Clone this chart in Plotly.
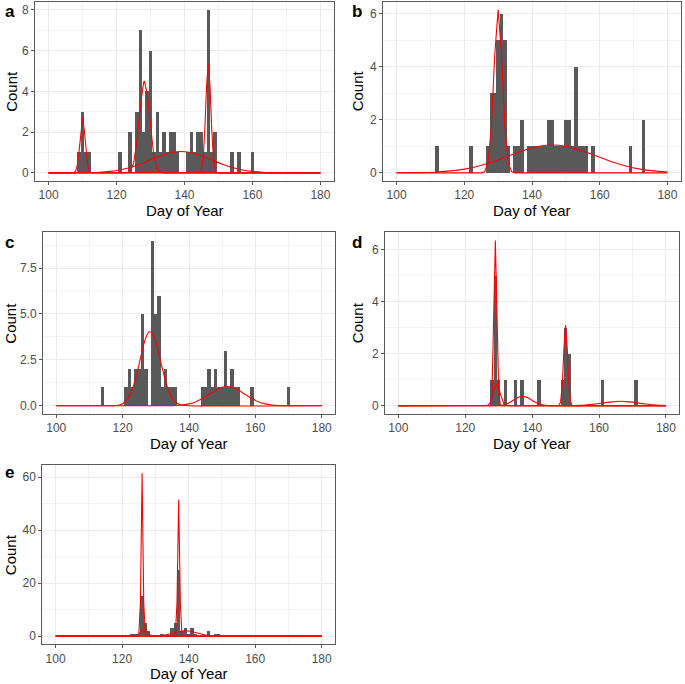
import plotly.graph_objects as go

# ---------------- data: daily histogram counts ----------------
A_DAYS = [109, 110, 111, 112, 121, 124, 126, 127, 128, 129, 130, 131, 132, 133, 134, 135, 136, 137, 138,
          141, 142, 143, 144, 145, 146, 147, 148, 149, 154, 156, 160]
A_COUNTS = [1, 3, 1, 1, 1, 2, 3, 7, 2, 4, 6, 1, 3, 1, 2, 1, 2, 2, 1,
            1, 2, 1, 2, 2, 1, 8, 1, 2, 1, 1, 1]

B_DAYS = [112, 122, 127, 128, 129, 130, 131, 132, 133, 135, 136, 137, 139, 140, 141, 142, 143, 144, 145,
          146, 147, 148, 149, 150, 151, 152, 153, 154, 155, 156, 158, 169, 173]
B_COUNTS = [1, 1, 1, 3, 3, 5, 6, 5, 1, 1, 1, 2, 1, 1, 1, 1, 1, 1, 2,
            2, 1, 1, 1, 2, 2, 1, 4, 1, 1, 1, 1, 1, 2]

C_DAYS = [114, 121, 122, 123, 124, 125, 126, 127, 129, 130, 131, 132, 133, 134, 135, 136,
          144, 145, 146, 147, 148, 149, 150, 151, 152, 153, 154, 155, 159, 170]
C_COUNTS = [1, 1, 2, 1, 2, 2, 5, 2, 9, 5, 6, 1, 2, 1, 1, 1,
            1, 1, 2, 1, 2, 1, 1, 3, 1, 2, 1, 1, 1, 1]

D_DAYS = [128, 129, 130, 132, 135, 137, 142, 149, 150, 151, 161, 171]
D_COUNTS = [1, 5, 1, 1, 1, 1, 1, 1, 3, 2, 1, 1]

E_DAYS = [123, 124, 125, 126, 127, 128, 132, 135, 136, 137, 138, 139, 140, 141, 142, 146, 148, 149]
E_COUNTS = [1, 1, 1, 15, 5, 2, 1, 3, 5, 25, 2, 3, 1, 3, 1, 2, 1, 1]

# ---------------- data: fitted component curves ----------------
A_FIT1_DAY = [100, 107, 107.5, 108, 108.5, 109, 109.5, 110, 110.5, 111, 111.5, 112, 112.5, 113, 180]
A_FIT1_COUNT = [0, 0, 0.01, 0.1, 0.4, 1.1, 2.1, 2.7, 2.1, 1.1, 0.4, 0.1, 0.01, 0, 0]
A_FIT2_DAY = [100, 122, 123, 124, 125, 126, 127, 128, 128.2, 129, 130, 131, 132, 133, 134, 180]
A_FIT2_COUNT = [0, 0, 0.01, 0.09, 0.46, 1.53, 3.27, 4.46, 4.5, 3.9, 2.19, 0.79, 0.18, 0.03, 0, 0]
A_FIT3_DAY = [100, 144, 144.5, 145, 145.5, 146, 146.5, 147, 147.5, 148, 148.5, 149, 149.5, 150, 180]
A_FIT3_COUNT = [0, 0, 0.02, 0.15, 0.72, 2.2, 4.28, 5.35, 4.28, 2.2, 0.72, 0.15, 0.02, 0, 0]
A_FIT4_DAY = [100, 106, 109, 112, 115, 118, 121, 124, 127, 130, 133, 136, 139, 142, 145, 148, 151,
              154, 157, 160, 163, 166, 169, 172, 180]
A_FIT4_COUNT = [0, 0.001, 0.004, 0.012, 0.03, 0.07, 0.14, 0.26, 0.43, 0.64, 0.84, 0.99, 1.05, 0.99, 0.84,
                0.64, 0.43, 0.26, 0.14, 0.07, 0.03, 0.012, 0.004, 0.001, 0]

B_FIT1_DAY = [100, 125, 126, 127, 128, 129, 130, 131, 132, 133, 134, 135, 180]
B_FIT1_COUNT = [0, 0, 0.04, 0.35, 1.71, 4.47, 6.15, 4.47, 1.71, 0.35, 0.04, 0, 0]
B_FIT2_DAY = [100, 104, 108, 112, 116, 120, 124, 128, 132, 136, 140, 144, 146, 148, 152, 156, 160,
              164, 168, 172, 176, 180]
B_FIT2_COUNT = [0.002, 0.006, 0.015, 0.034, 0.073, 0.14, 0.25, 0.40, 0.59, 0.78, 0.94, 1.04, 1.05, 1.04,
                0.94, 0.78, 0.59, 0.40, 0.25, 0.14, 0.073, 0.034]

C_FIT1_DAY = [100, 116, 118, 119, 120, 121, 122, 123, 124, 125, 126, 127, 128, 129, 130, 131, 132, 133,
              134, 135, 136, 137, 138, 140, 180]
C_FIT1_COUNT = [0, 0.002, 0.016, 0.045, 0.11, 0.25, 0.51, 0.94, 1.55, 2.30, 3.08, 3.71, 4.03, 3.95, 3.49,
                2.77, 1.99, 1.28, 0.75, 0.39, 0.19, 0.08, 0.03, 0.003, 0]
C_FIT2_DAY = [100, 134, 136, 138, 140, 142, 144, 146, 148, 150, 151.5, 153, 155, 157, 159, 161, 163,
              165, 167, 170, 180]
C_FIT2_COUNT = [0, 0.003, 0.015, 0.041, 0.10, 0.21, 0.39, 0.61, 0.84, 1.01, 1.05, 1.01, 0.84, 0.61, 0.39,
                0.21, 0.10, 0.041, 0.015, 0.002, 0]

D_FIT1_DAY = [100, 127, 127.5, 128, 128.5, 129, 129.5, 130, 130.5, 131, 180]
D_FIT1_COUNT = [0, 0, 0.02, 0.54, 3.43, 6.35, 3.43, 0.54, 0.02, 0, 0]
D_FIT2_DAY = [100, 126, 126.5, 127, 127.5, 128, 128.5, 129, 129.4, 130, 130.5, 131, 131.5, 132, 132.5, 133, 180]
D_FIT2_COUNT = [0, 0, 0.012, 0.046, 0.13, 0.31, 0.55, 0.76, 0.82, 0.68, 0.45, 0.23, 0.09, 0.028, 0.007, 0, 0]
D_FIT3_DAY = [100, 128, 129, 130, 131, 132, 133, 134, 135, 136, 137, 138, 139, 140, 141, 142, 143, 144,
              145, 146, 148, 180]
D_FIT3_COUNT = [0, 0.001, 0.003, 0.01, 0.026, 0.056, 0.107, 0.18, 0.26, 0.33, 0.36, 0.34, 0.29, 0.21,
                0.13, 0.074, 0.036, 0.015, 0.006, 0.002, 0, 0]
D_FIT4_DAY = [100, 147.5, 148, 148.5, 149, 149.5, 150, 150.5, 151, 151.5, 152, 152.5, 180]
D_FIT4_COUNT = [0, 0, 0.01, 0.14, 0.77, 2.19, 3.1, 2.19, 0.77, 0.14, 0.01, 0, 0]
D_FIT5_DAY = [100, 146, 150, 154, 156, 158, 160, 162, 164, 166, 168, 170, 172, 174, 176, 178, 180]
D_FIT5_COUNT = [0, 0.0003, 0.002, 0.013, 0.028, 0.052, 0.085, 0.12, 0.15, 0.17, 0.16, 0.14, 0.10, 0.067,
                0.038, 0.019, 0.008]

E_FIT1_DAY = [100, 124.5, 125, 125.5, 126, 126.5, 127, 127.5, 180]
E_FIT1_COUNT = [0, 0, 0.1, 12.5, 61.5, 12.5, 0.1, 0, 0]
E_FIT2_DAY = [100, 135.5, 136, 136.5, 137, 137.5, 138, 138.5, 180]
E_FIT2_COUNT = [0, 0, 0.2, 12.8, 51.5, 12.8, 0.2, 0, 0]
E_FIT3_DAY = [100, 123, 124, 125, 126, 126.5, 127, 128, 129, 130, 131, 180]
E_FIT3_COUNT = [0, 0.005, 0.11, 0.81, 2.2, 2.5, 2.2, 0.81, 0.11, 0.005, 0, 0]
E_FIT4_DAY = [100, 126, 128, 130, 132, 134, 136, 138, 139, 140, 142, 144, 146, 148, 150, 152, 180]
E_FIT4_COUNT = [0, 0.002, 0.014, 0.073, 0.27, 0.72, 1.39, 1.92, 2.0, 1.92, 1.39, 0.72, 0.27, 0.073,
                0.014, 0.002, 0]

X_TICKS = [100, 120, 140, 160, 180]
X_TITLE = "Day of Year"
Y_TITLE = "Count"

# ---------------- layout / styling ----------------
W, H = 685, 684
FONT = "Liberation Sans, Arial, Helvetica, sans-serif"
BAR_COLOR = "#595959"
FIT_COLOR = "#FF0000"
GRID = "#EBEBEB"
BORDER = "#5A5A5A"

PANELS = [
    dict(label="a", days=A_DAYS, counts=A_COUNTS,
         fits=[(A_FIT1_DAY, A_FIT1_COUNT, "linear"), (A_FIT2_DAY, A_FIT2_COUNT, "linear"),
               (A_FIT3_DAY, A_FIT3_COUNT, "linear"), (A_FIT4_DAY, A_FIT4_COUNT, "spline")],
         box=(35, 1.7, 334, 181), ystep=2, yfmt="d", count_x=11.5, label_x=2.5, label_y=11.5),
    dict(label="b", days=B_DAYS, counts=B_COUNTS,
         fits=[(B_FIT1_DAY, B_FIT1_COUNT, "linear"), (B_FIT2_DAY, B_FIT2_COUNT, "spline")],
         box=(383, 1.7, 681, 181), ystep=2, yfmt="d", count_x=357, label_x=349.5, label_y=11.5),
    dict(label="c", days=C_DAYS, counts=C_COUNTS,
         fits=[(C_FIT1_DAY, C_FIT1_COUNT, "spline"), (C_FIT2_DAY, C_FIT2_COUNT, "spline")],
         box=(43, 232.3, 335, 414), ystep=2.5, yfmt=".1f", count_x=10.5, label_x=2.5, label_y=242.5),
    dict(label="d", days=D_DAYS, counts=D_COUNTS,
         fits=[(D_FIT1_DAY, D_FIT1_COUNT, "linear"), (D_FIT2_DAY, D_FIT2_COUNT, "linear"),
               (D_FIT3_DAY, D_FIT3_COUNT, "spline"), (D_FIT4_DAY, D_FIT4_COUNT, "linear"),
               (D_FIT5_DAY, D_FIT5_COUNT, "spline")],
         box=(385, 232.3, 679.3, 414), ystep=2, yfmt="d", count_x=357, label_x=349.5, label_y=242.5),
    dict(label="e", days=E_DAYS, counts=E_COUNTS,
         fits=[(E_FIT1_DAY, E_FIT1_COUNT, "linear"), (E_FIT2_DAY, E_FIT2_COUNT, "linear"),
               (E_FIT3_DAY, E_FIT3_COUNT, "linear"), (E_FIT4_DAY, E_FIT4_COUNT, "spline")],
         box=(42.3, 465, 335, 644.3), ystep=20, yfmt="d", count_x=10.5, label_x=2.5, label_y=472.5),
]

fig = go.Figure()
annotations = []
layout_axes = {}

for i, p in enumerate(PANELS):
    n = "" if i == 0 else str(i + 1)
    xref, yref = "x" + n, "y" + n
    fig.add_trace(go.Bar(x=p["days"], y=p["counts"], width=1, marker=dict(color=BAR_COLOR, line=dict(width=0)),
                         xaxis=xref, yaxis=yref, showlegend=False, hoverinfo="x+y"))
    ymax = max(p["counts"])
    for fx, fy, shape in p["fits"]:
        ymax = max(ymax, max(fy))
        fig.add_trace(go.Scatter(x=fx, y=fy, mode="lines",
                                 line=dict(color=FIT_COLOR, width=1.1, shape=shape, smoothing=0.8),
                                 xaxis=xref, yaxis=yref, showlegend=False, hoverinfo="skip"))
    x0, y0, x1, y1 = p["box"]
    common = dict(showline=True, mirror=True, linecolor=BORDER, linewidth=1,
                  ticks="outside", ticklen=3, tickwidth=1, tickcolor=BORDER,
                  tickfont=dict(family=FONT, size=12, color="#4D4D4D"),
                  showgrid=True, gridcolor=GRID, gridwidth=1, zeroline=False)
    layout_axes["xaxis" + n] = dict(
        domain=[x0 / W, x1 / W], anchor=yref, range=[96, 184],
        tickmode="array", tickvals=X_TICKS,
        minor=dict(tickmode="linear", tick0=90, dtick=10, showgrid=True, gridcolor="#F3F3F3", gridwidth=1),
        **common)
    layout_axes["yaxis" + n] = dict(
        domain=[1 - y1 / H, 1 - y0 / H], anchor=xref,
        range=[-0.05 * ymax, 1.05 * ymax], tickmode="linear", tick0=0, dtick=p["ystep"],
        tickformat=p["yfmt"],
        minor=dict(tickmode="linear", tick0=p["ystep"] / 2, dtick=p["ystep"], showgrid=True,
                   gridcolor="#F3F3F3", gridwidth=1),
        **common)
    # panel letter
    annotations.append(dict(text="<b>%s</b>" % p["label"], xref="paper", yref="paper",
                            x=p["label_x"] / W, y=1 - p["label_y"] / H, xanchor="left", yanchor="middle",
                            showarrow=False, font=dict(family=FONT, size=17, color="black")))
    # y title
    annotations.append(dict(text=Y_TITLE, xref="paper", yref="paper", textangle=-90,
                            x=p["count_x"] / W, y=1 - ((y0 + y1) / 2) / H, xanchor="center", yanchor="middle",
                            showarrow=False, font=dict(family=FONT, size=15, color="black")))
    # x title
    annotations.append(dict(text=X_TITLE, xref="paper", yref="paper",
                            x=((x0 + x1) / 2) / W, y=1 - (y1 + 29.5) / H, xanchor="center", yanchor="middle",
                            showarrow=False, font=dict(family=FONT, size=15, color="black")))

fig.update_layout(width=W, height=H, autosize=False, margin=dict(l=0, r=0, t=0, b=0),
                  paper_bgcolor="white", plot_bgcolor="white", bargap=0, barmode="overlay",
                  hovermode=False, annotations=annotations, **layout_axes)

fig.write_html("out.html", config={"displayModeBar": False, "staticPlot": True},
               post_script="document.body.style.margin='0';document.body.style.overflow='hidden';")
